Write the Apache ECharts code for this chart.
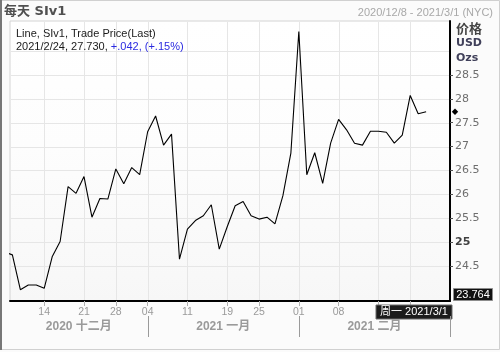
<!DOCTYPE html>
<html><head><meta charset="utf-8">
<script src="https://cdn.jsdelivr.net/npm/echarts@6/dist/echarts.min.js"></script>
<style>html,body{margin:0;padding:0;background:#fbfbfb}#c{width:500px;height:352px}</style>
</head><body><div id="c"></div>
<script>
// ---- data ----
const dates = [
  '2020/12/7','2020/12/8','2020/12/9','2020/12/10','2020/12/11','2020/12/14','2020/12/15','2020/12/16','2020/12/17','2020/12/18',
  '2020/12/21','2020/12/22','2020/12/23','2020/12/24','2020/12/28','2020/12/29','2020/12/30','2020/12/31',
  '2021/1/4','2021/1/5','2021/1/6','2021/1/7','2021/1/8','2021/1/11','2021/1/12','2021/1/13','2021/1/14','2021/1/15',
  '2021/1/19','2021/1/20','2021/1/21','2021/1/22','2021/1/25','2021/1/26','2021/1/27','2021/1/28','2021/1/29',
  '2021/2/1','2021/2/2','2021/2/3','2021/2/4','2021/2/5','2021/2/8','2021/2/9','2021/2/10','2021/2/11','2021/2/12',
  '2021/2/16','2021/2/17','2021/2/18','2021/2/19','2021/2/22','2021/2/23','2021/2/24','2021/2/25','2021/2/26','2021/3/1'
];
const prices = [
  24.79, 24.73, 24.00, 24.10, 24.10, 24.03, 24.69, 25.01, 26.16, 26.02,
  26.37, 25.52, 25.91, 25.90, 26.53, 26.22, 26.56, 26.41,
  27.31, 27.64, 27.03, 27.26, 24.64, 25.27, 25.45, 25.55, 25.78, 24.85,
  25.32, 25.76, 25.85, 25.55, 25.48, 25.52, 25.38, 25.97, 26.86,
  29.41, 26.41, 26.87, 26.23, 27.07, 27.57, 27.35, 27.07, 27.03, 27.32,
  27.32, 27.30, 27.07, 27.24, 28.07, 27.688, 27.730
];
const weekTickDates = ['2020/12/14','2020/12/21','2020/12/28','2021/1/4','2021/1/11','2021/1/19','2021/1/25','2021/2/1','2021/2/8','2021/2/16','2021/2/22'];
const weekLabelDates = ['2020/12/14','2020/12/21','2020/12/28','2021/1/4','2021/1/11','2021/1/19','2021/1/25','2021/2/1','2021/2/8'];
const monthLabels = ['2020 十二月','2021 一月','2021 二月'];
const monthEnds = ['2021/1/4','2021/2/1','2021/3/1'];
const yTicks = [24.5,25,25.5,26,26.5,27,27.5,28,28.5];
const yGrid = [24.5,25,25.5,26,26.5,27,27.5,28,28.5,29];
const yMin = 23.764, yMax = 29.63;
const titleText = '每天 SIv1';
const rangeText = '2020/12/8 - 2021/3/1 (NYC)';
const unitLabels = ['价格','USD','Ozs'];
const seriesName = 'Line, SIv1, Trade Price(Last)';
const cursorLabel = '周一 2021/3/1';

// ---- helpers ----
const FONT = '"DejaVu Sans","Noto Sans CJK SC",sans-serif';
const FONT2 = '"Liberation Sans","Noto Sans CJK SC",sans-serif';
const idx = d => dates.indexOf(d) - 1;   // 2020/12/8 -> 0
const lineData = prices.map((p, k) => [k - 1, p]);
const xMin = -0.3, xMax = idx('2021/3/1');
const dayLabel = {};
weekLabelDates.forEach(d => { const dd = d.split('/')[2]; dayLabel[idx(d)] = dd.length < 2 ? '0' + dd : dd; });

// grid-line rows: [x, y, orientation(0 = horizontal, 1 = vertical)]
const gridRows = yGrid.map(v => [xMin, v, 0]).concat(weekTickDates.map(d => [idx(d), yMin, 1]));

const chart = echarts.init(document.getElementById('c'), null, {renderer: 'canvas'});
chart.setOption({
  animation: false,
  backgroundColor: '#fbfbfb',
  grid: {
    left: 10, right: 50, top: 21, bottom: 51, show: true,
    borderColor: '#d4d4d4', borderWidth: 1,
    backgroundColor: {type: 'linear', x: 0, y: 0, x2: 0, y2: 1,
      colorStops: [{offset: 0, color: '#ffffff'}, {offset: 0.45, color: '#fdfdfd'}, {offset: 1, color: '#f7f7f7'}]}
  },
  xAxis: {
    type: 'value', min: xMin, max: xMax,
    axisLine: {show: true, onZero: false, lineStyle: {color: '#000', width: 2}},
    axisTick: {show: true, length: 5, lineStyle: {color: '#b0b0b0'}, customValues: weekTickDates.map(idx)},
    axisLabel: {show: true, customValues: weekLabelDates.map(idx), formatter: v => dayLabel[v] || '',
      color: '#9a9a9a', fontSize: 10.5, fontFamily: FONT2, margin: 6},
    splitLine: {show: false}
  },
  yAxis: {
    type: 'value', position: 'right', min: yMin, max: yMax,
    axisLine: {show: true, onZero: false, lineStyle: {color: '#000', width: 2}},
    axisTick: {show: true, length: 3, lineStyle: {color: '#505050'}, customValues: yTicks},
    axisLabel: {show: true, customValues: yTicks, margin: 5,
      formatter: v => v === 25 ? '{b|25}' : String(v),
      color: '#6e6e6e', fontSize: 11, fontFamily: FONT,
      rich: {b: {fontWeight: 'bold', color: '#404040', fontSize: 11, fontFamily: FONT}}},
    splitLine: {show: false}
  },
  series: [
    {
      type: 'custom', data: gridRows, z: 2, silent: true, clip: false,
      encode: {x: 0, y: 1},
      renderItem: (params, api) => {
        const cs = params.coordSys;
        const p = api.coord([api.value(0), api.value(1)]);
        if (api.value(2) === 0) {
          const y = Math.round(p[1]) + 0.5;
          return {type: 'line', shape: {x1: cs.x + 1, y1: y, x2: cs.x + cs.width - 1, y2: y},
            style: {stroke: '#e6e6e6', lineWidth: 1, fill: null}};
        }
        const x = Math.round(p[0]) + 0.5;
        return {type: 'line', shape: {x1: x, y1: cs.y + 1, x2: x, y2: cs.y + cs.height - 1},
          style: {stroke: '#e6e6e6', lineWidth: 1, fill: null}};
      }
    },
    {
      name: seriesName, type: 'line', data: lineData, z: 3, clip: true,
      symbol: 'none', lineStyle: {color: '#000', width: 1.1}
    }
  ]
});

// ---- overlay texts placed through the chart's scales ----
const px = (x, y) => chart.convertToPixel({gridIndex: 0}, [x, y]);
const lastP = prices[prices.length - 1], prevP = prices[prices.length - 2];
const chg = lastP - prevP, pct = chg / prevP * 100;
const fmtSigned = (v, n) => (v >= 0 ? '+' : '-') + Math.abs(v).toFixed(n).replace(/^0/, '');
const lastDate = dates[prices.length - 1];
const legend2a = lastDate + ', ' + lastP.toFixed(3) + ', ';
const legend2b = fmtSigned(chg, 3) + ', (' + fmtSigned(pct, 2) + '%)';

const g = [];
// outer frame
g.push({type: 'rect', shape: {x: 0.5, y: 0.5, width: 499, height: 349}, style: {fill: null, stroke: '#d0d0d0', lineWidth: 1}, z: 90});
g.push({type: 'line', shape: {x1: 1, y1: 0, x2: 1, y2: 350}, style: {stroke: '#777', lineWidth: 2}, z: 91});
// title + range
g.push({type: 'text', x: 4, y: 12, style: {text: titleText, fill: '#505050', font: 'bold 13px ' + FONT, textVerticalAlign: 'middle'}, z: 95});
g.push({type: 'text', x: 493, y: 12.5, style: {text: rangeText, fill: '#a8a8a8', font: '11px ' + FONT2, textAlign: 'right', textVerticalAlign: 'middle'}, z: 95});
// legend
g.push({type: 'text', x: 16, y: 33.5, style: {text: seriesName, fill: '#1a1a1a', font: '11px ' + FONT2, textVerticalAlign: 'middle'}, z: 95});
g.push({type: 'text', x: 16, y: 47, style: {
  text: '{a|' + legend2a + '}{b|' + legend2b + '}', textVerticalAlign: 'middle',
  rich: {a: {fill: '#1a1a1a', font: '11px ' + FONT2}, b: {fill: '#2a2ae0', font: '11px ' + FONT2}}}, z: 95});
// unit labels
g.push({type: 'text', x: 456, y: 29.5, style: {text: unitLabels[0], fill: '#454545', font: 'bold 13px ' + FONT, textVerticalAlign: 'middle'}, z: 95});
g.push({type: 'text', x: 456, y: 43.5, style: {text: unitLabels[1], fill: '#40405a', font: 'bold 11px ' + FONT, textVerticalAlign: 'middle'}, z: 95});
g.push({type: 'text', x: 456, y: 58.5, style: {text: unitLabels[2], fill: '#40405a', font: 'bold 11px ' + FONT, textVerticalAlign: 'middle'}, z: 95});
// last value marker
const pLast = px(xMax, lastP);
g.push({type: 'polygon', shape: {points: [[pLast[0] + 5, pLast[1] - 3.2], [pLast[0] + 8.2, pLast[1]], [pLast[0] + 5, pLast[1] + 3.2], [pLast[0] + 1.8, pLast[1]]]}, style: {fill: '#000'}, z: 95});
// min value box
const pMin = px(xMax, yMin);
g.push({type: 'rect', shape: {x: pMin[0] + 3.5, y: pMin[1] - 12.5, width: 39, height: 12}, style: {fill: '#111', stroke: '#8c8c8c', lineWidth: 1}, z: 95});
g.push({type: 'text', x: pMin[0] + 23, y: pMin[1] - 6.3, style: {text: yMin.toFixed(3), fill: '#fff', font: '11px ' + FONT2, textAlign: 'center', textVerticalAlign: 'middle'}, z: 96});
// cursor date box
const pEnd = px(xMax, yMin);
g.push({type: 'rect', shape: {x: pEnd[0] - 74, y: pEnd[1] + 4, width: 76, height: 14}, style: {fill: '#1c1c1c', stroke: '#6a6a6a', lineWidth: 1}, z: 95});
g.push({type: 'text', x: pEnd[0] - 36, y: pEnd[1] + 11.3, style: {text: cursorLabel, fill: '#fff', font: '11px ' + FONT2, textAlign: 'center', textVerticalAlign: 'middle'}, z: 96});
// month labels and separators
let prevX = px(xMin, yMin)[0];
monthEnds.forEach((d, k) => {
  const p = px(idx(d), yMin);
  g.push({type: 'line', shape: {x1: Math.round(p[0]) + 0.5, y1: p[1] + 15, x2: Math.round(p[0]) + 0.5, y2: p[1] + 36}, style: {stroke: '#9a9a9a', lineWidth: 1}, z: 95});
  g.push({type: 'text', x: (prevX + p[0]) / 2, y: p[1] + 26, style: {text: monthLabels[k], fill: '#9a9a9a', font: 'bold 12px ' + FONT2, textAlign: 'center', textVerticalAlign: 'middle'}, z: 95});
  prevX = p[0];
});
chart.setOption({graphic: {elements: g}});
</script>
</body></html>
